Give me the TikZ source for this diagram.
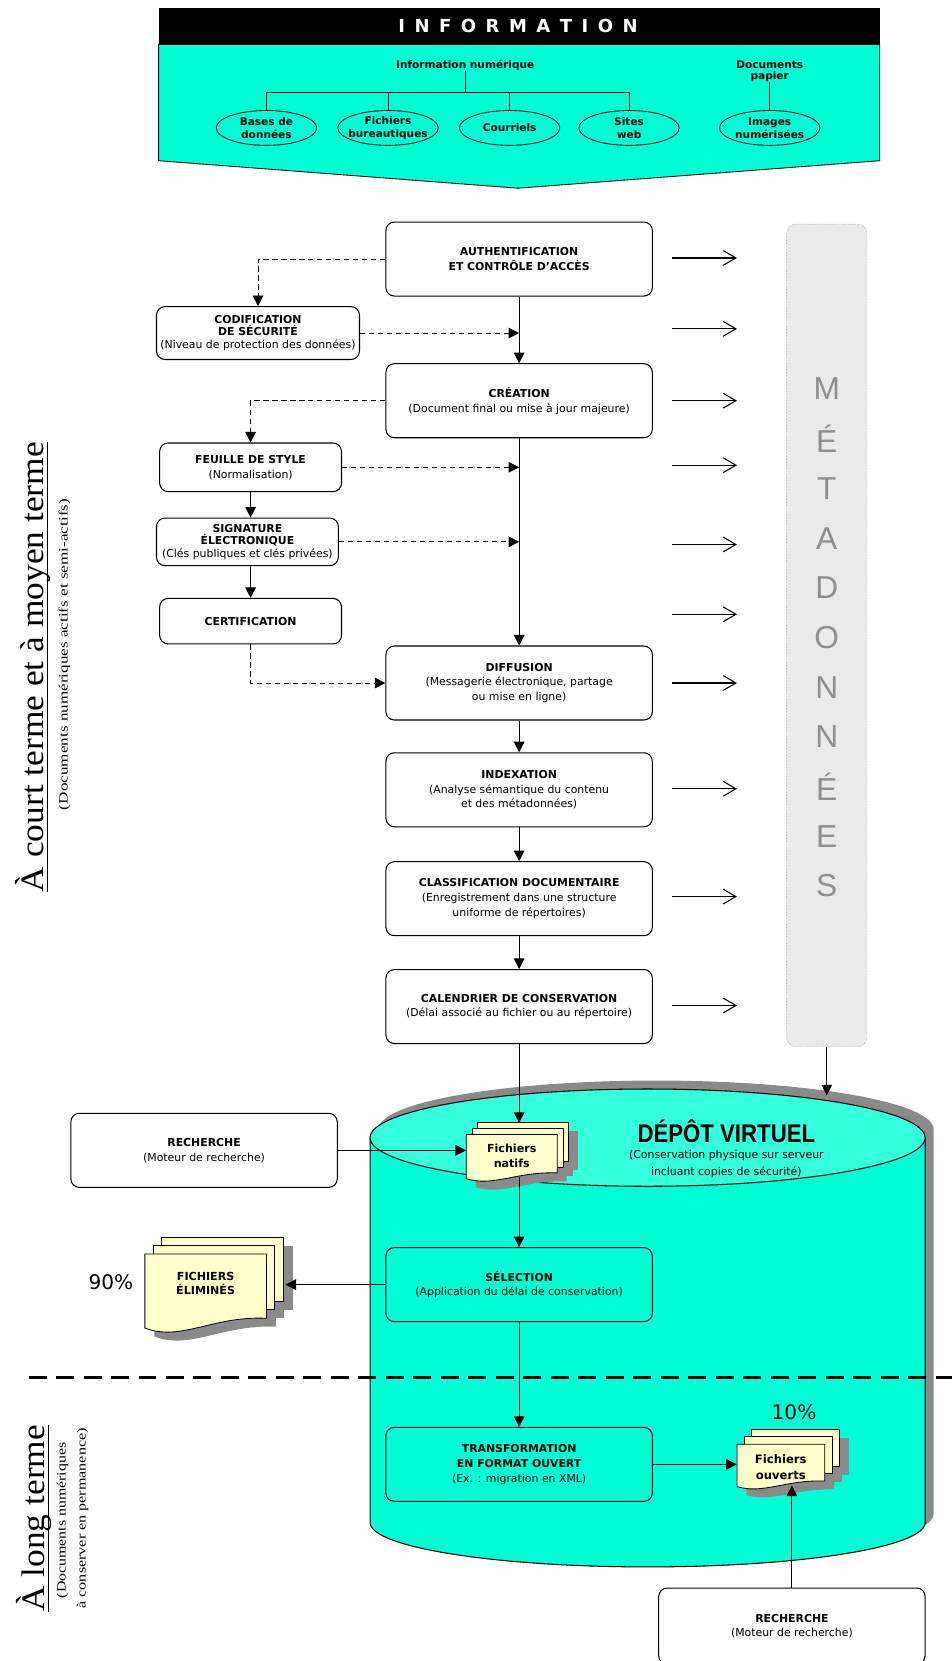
\documentclass[tikz,border=0pt]{standalone}
\usepackage{fontspec}
\usepackage{graphicx}
\setmainfont{DejaVu Sans}
\newfontfamily\serf{Liberation Serif}
\newfontfamily\arf{Liberation Sans}
\usetikzlibrary{arrows.meta,shapes.geometric}
\definecolor{cyanB}{HTML}{00FFD4}
\definecolor{cyanT}{HTML}{33FFDD}
\definecolor{docY}{HTML}{FFFFCC}
\definecolor{shd}{HTML}{8A8A8A}
\definecolor{metaF}{HTML}{EAEAEA}
\definecolor{metaB}{HTML}{707070}
\definecolor{metaL}{HTML}{8E8E8E}
\newcommand\lsp{\hspace{9pt}}
\newcommand\bt[1]{\textbf{#1}}
% #1 left, #2 top, #3 width, #4 height, #5 sheet offset
\newcommand\docstack[5]{%
  \begin{scope}[shift={(9,8)}]
    \fill[shd] ({#1+2*#5},{#2-2*#5}) rectangle ++(#3,{0.79*#4});
    \fill[shd] ({#1+#5},{#2-#5}) rectangle ++(#3,{0.79*#4});
    \fill[shd] (#1,#2) -- ++(#3,0) -- ++(0,{0.79*#4}) .. controls ({#1+0.55*#3},{#2+0.76*#4}) and ({#1+0.3*#3},{#2+1.08*#4}) .. (#1,{#2+0.91*#4}) -- cycle;
  \end{scope}
  \filldraw[fill=docY, line width=0.8pt] ({#1+2*#5},{#2-2*#5}) rectangle ++(#3,{0.79*#4});
  \filldraw[fill=docY, line width=0.8pt] ({#1+#5},{#2-#5}) rectangle ++(#3,{0.79*#4});
  \filldraw[fill=docY, line width=0.8pt] (#1,#2) -- ++(#3,0) -- ++(0,{0.79*#4}) .. controls ({#1+0.55*#3},{#2+0.76*#4}) and ({#1+0.3*#3},{#2+1.08*#4}) .. (#1,{#2+0.91*#4}) -- cycle;
}
\tikzset{
  box/.style={draw, rounded corners=8pt, line width=1pt, align=center, inner sep=1pt,
    font=\fontsize{10.3}{14}\selectfont},
  wbox/.style={box, fill=white},
  arr/.style={-{Triangle[length=10pt,width=10pt]}, line width=1pt},
  darr/.style={-{Triangle[length=10pt,width=10pt]}, line width=0.9pt, dash pattern=on 5pt off 3.5pt},
  marr/.style={-{Straight Barb[length=12pt,width=14pt]}, line width=1pt},
  ell/.style={draw, ellipse, line width=0.8pt, minimum width=95pt, minimum height=33pt, inner sep=0pt},
  etxt/.style={align=center, inner sep=0pt, font=\bfseries\fontsize{10}{12.5}\selectfont},
  stk/.style={align=center, inner sep=0pt},
  metaletter/.style={text=metaL, font=\arf\fontsize{30}{30}\selectfont, inner sep=0pt},
}
\begin{document}
\begin{tikzpicture}[x=1pt,y=-1pt, line join=round]
\useasboundingbox (0,0) rectangle (900,1571);
\fill[white] (0,0) rectangle (900,1571);

% ---------------- header ----------------
\filldraw[fill=cyanB, line width=0.8pt] (150,42) -- (832,42) -- (832,152) -- (490,178) -- (150,152) -- cycle;
\fill[black] (150,8) rectangle (832,42);
\node[text=white, font=\bfseries\fontsize{17}{17}\selectfont] (infotitle) at (490,25)
  {I\lsp N\lsp F\lsp O\lsp R\lsp M\lsp A\lsp T\lsp I\lsp O\lsp N};
\node[etxt] (infonum) at (440,62) {Information numérique};
\node[etxt] (docpap) at (728,67) {Documents\\[-2pt]papier};
\coordinate (bus) at (440,87);
\node[ell] (bases) at (252,121) {};
\node[ell] (fich) at (367,121) {};
\node[ell] (cour) at (482,121) {};
\node[ell] (sites) at (595,121) {};
\node[ell] (images) at (728,121) {};
\node[etxt] (basesT) at (bases) {Bases de\\données};
\node[etxt] (fichT) at (fich) {Fichiers\\bureautiques};
\node[etxt] (courT) at (cour) {Courriels};
\node[etxt] (sitesT) at (sites) {Sites\\web};
\node[etxt] (imagesT) at (images) {Images\\numérisées};
\draw[line width=0.8pt] (infonum.south) -- (bus);
\draw[line width=0.8pt] (bases.north) -- (bases.north |- bus) -- (sites.north |- bus) -- (sites.north);
\draw[line width=0.8pt] (fich.north) -- (fich.north |- bus);
\draw[line width=0.8pt] (cour.north) -- (cour.north |- bus);
\draw[line width=0.8pt] (docpap.south) -- (images.north);

% ---------------- left labels ----------------
\node[rotate=90, anchor=base, inner sep=0pt, font=\serf\fontsize{31}{31}\selectfont] (lab1) at (41,631)
  {\scalebox{1.08}[1]{À court terme et à moyen terme}};
\draw[line width=0.9pt] ([xshift=4pt]lab1.base west) -- ([xshift=4pt]lab1.base east);
\node[rotate=90, anchor=base, inner sep=0pt, font=\serf\fontsize{12}{12}\selectfont] (lab1s) at (64,619)
  {\scalebox{1.35}[1]{(Documents numériques actifs et semi-actifs)}};
\node[rotate=90, anchor=base, inner sep=0pt, font=\serf\fontsize{31}{31}\selectfont] (lab2) at (42,1436)
  {\scalebox{1.08}[1]{À long terme}};
\draw[line width=0.9pt] ([xshift=4pt]lab2.base west) -- ([xshift=4pt]lab2.base east);
\node[rotate=90, anchor=base, inner sep=0pt, font=\serf\fontsize{12}{12}\selectfont] (lab2a) at (62,1438)
  {\scalebox{1.25}[1]{(Documents numériques}};
\node[rotate=90, anchor=base, inner sep=0pt, font=\serf\fontsize{12}{12}\selectfont] (lab2b) at (81,1436)
  {\scalebox{1.27}[1]{à conserver en permanence)}};

% ---------------- cylinder ----------------
\fill[shd, shift={(8,-8)}] (350,1076) -- (350,1440) arc[start angle=180, end angle=0, x radius=262.5, y radius=42]
  -- (875,1076) arc[start angle=0, end angle=-180, x radius=262.5, y radius=46] -- cycle;
\fill[cyanB] (350,1076) -- (350,1440) arc[start angle=180, end angle=0, x radius=262.5, y radius=42]
  -- (875,1076) arc[start angle=0, end angle=-180, x radius=262.5, y radius=46] -- cycle;
\draw[line width=1pt] (350,1076) -- (350,1440) arc[start angle=180, end angle=0, x radius=262.5, y radius=42] -- (875,1076);
\filldraw[fill=cyanT, line width=1pt] (612.5,1076) ellipse [x radius=262.5, y radius=46];
\node[font=\arf\bfseries\fontsize{21}{21}\selectfont, inner sep=0pt] (depot) at (687,1070) {\scalebox{1}[1.15]{DÉPÔT VIRTUEL}};
\node[align=center, inner sep=0pt, font=\fontsize{10.3}{16}\selectfont] (depotS) at (687,1101)
  {(Conservation physique sur serveur\\incluant copies de sécurité)};

% ---------------- metadata column ----------------
\node[draw=metaB, densely dotted, fill=metaF, rounded corners=9pt, minimum width=76pt, minimum height=778pt, inner sep=0pt] (meta) at (782,601) {};
\foreach \l [count=\i] in {M,É,T,A,D,O,N,N,É,E,S} {
  \node[metaletter] (ml\i) at (782,{368+47*(\i-1)}) {\l};
}
\foreach \yy [count=\i] in {244,311,379,440,515,581,646,746,848,951} {
  \coordinate (ma\i) at (636,\yy);
  \coordinate (mb\i) at (697,\yy);
  \draw[marr] (ma\i) -- (mb\i);
}

% ---------------- boxes ----------------
\node[wbox, minimum width=252pt, minimum height=70pt] (auth) at (491,245) {\bt{AUTHENTIFICATION}\\\bt{ET CONTRÔLE D’ACCÈS}};
\node[wbox, minimum width=192pt, minimum height=50pt] (codif) at (244,315) {\bt{CODIFICATION}\\[-2pt]\bt{DE SÉCURITÉ}\\[-2pt](Niveau de protection des données)};
\node[wbox, minimum width=252pt, minimum height=70pt] (crea) at (491,379) {\bt{CRÉATION}\\(Document final ou mise à jour majeure)};
\node[wbox, minimum width=172pt, minimum height=46pt] (feuille) at (237,442) {\bt{FEUILLE DE STYLE}\\(Normalisation)};
\node[wbox, minimum width=172pt, minimum height=45pt] (sign) at (234,512.5) {\bt{SIGNATURE}\\[-2pt]\bt{ÉLECTRONIQUE}\\[-2pt](Clés publiques et clés privées)};
\node[wbox, minimum width=172pt, minimum height=43pt] (cert) at (237,587.5) {\bt{CERTIFICATION}};
\node[wbox, minimum width=252pt, minimum height=70pt] (diff) at (491,646) {\bt{DIFFUSION}\\(Messagerie électronique, partage\\ou mise en ligne)};
\node[wbox, minimum width=252pt, minimum height=70pt] (index) at (491,747) {\bt{INDEXATION}\\(Analyse sémantique du contenu\\et des métadonnées)};
\node[wbox, minimum width=252pt, minimum height=70pt] (classif) at (491,850) {\bt{CLASSIFICATION DOCUMENTAIRE}\\(Enregistrement dans une structure\\uniforme de répertoires)};
\node[wbox, minimum width=252pt, minimum height=70pt] (calend) at (491,952) {\bt{CALENDRIER DE CONSERVATION}\\(Délai associé au fichier ou au répertoire)};
\node[wbox, minimum width=252pt, minimum height=70pt] (rech1) at (193,1088) {\bt{RECHERCHE}\\(Moteur de recherche)};
\node[box, minimum width=252pt, minimum height=70pt] (selec) at (491,1215) {\bt{SÉLECTION}\\(Application du délai de conservation)};
\node[box, minimum width=252pt, minimum height=70pt] (transf) at (491,1385) {\bt{TRANSFORMATION}\\\bt{EN FORMAT OUVERT}\\(Ex. : migration en XML)};
\node[wbox, minimum width=252pt, minimum height=72pt] (rech2) at (749,1538) {\bt{RECHERCHE}\\(Moteur de recherche)};

% ---------------- document stacks ----------------
\docstack{137}{1186}{115}{77}{8}
\docstack{441}{1073}{86}{46}{5.5}
\docstack{697}{1366}{83}{44}{7}
\node[stk, minimum width=115pt, minimum height=60pt, font=\bfseries\fontsize{10.5}{12.5}\selectfont] (elim) at (194.5,1214) {FICHIERS\\ÉLIMINÉS};
\node[stk, minimum width=86pt, minimum height=40pt, font=\bfseries\fontsize{10.5}{14}\selectfont] (natifs) at (484,1093) {Fichiers\\natifs};
\node[stk, minimum width=83pt, minimum height=40pt, font=\bfseries\fontsize{11}{15}\selectfont] (ouv) at (738.5,1388) {Fichiers\\ouverts};
\node[font=\fontsize{19}{19}\selectfont, inner sep=0pt] (p90) at (105,1213) {90\%};
\node[font=\fontsize{19}{19}\selectfont, inner sep=0pt] (p10) at (751,1336) {10\%};

% ---------------- connectors ----------------
\coordinate (natTop) at (491,1062);
\coordinate (elimTip) at (270,1215);
\coordinate (ouvBot) at (749,1405);
\coordinate (cylTop) at (782,1036);
\draw[darr] (auth.west) -| (codif.north);
\draw[darr] (codif.east) -- (codif.east -| auth.south);
\draw[arr] (auth.south) -- (crea.north);
\draw[darr] (crea.west) -| (feuille.north);
\draw[darr] (feuille.east) -- (feuille.east -| crea.south);
\draw[arr] (feuille.south) -- (feuille.south |- sign.north);
\draw[darr] (sign.east) -- (sign.east -| crea.south);
\draw[arr] (sign.south -| feuille.south) -- (cert.north);
\draw[darr] (cert.south) |- (diff.west);
\draw[arr] (crea.south) -- (diff.north);
\draw[arr] (diff.south) -- (index.north);
\draw[arr] (index.south) -- (classif.north);
\draw[arr] (classif.south) -- (calend.north);
\draw[arr] (calend.south) -- (natTop);
\draw[arr] (rech1.east) -- (rech1.east -| natifs.west);
\draw[arr] (natifs.south -| selec.north) -- (selec.north);
\draw[arr] (selec.west) -- (elimTip);
\draw[arr] (selec.south) -- (transf.north);
\draw[arr] (transf.east) -- (transf.east -| ouv.west);
\draw[arr] (rech2.north) -- (ouvBot);
\draw[arr] (meta.south) -- (cylTop);

% ---------------- separator ----------------
\coordinate (sepL) at (27,1303);
\coordinate (sepR) at (900,1303);
\draw[line width=2.5pt, dash pattern=on 17pt off 9pt] (sepL) -- (sepR);
\end{tikzpicture}
\end{document}
